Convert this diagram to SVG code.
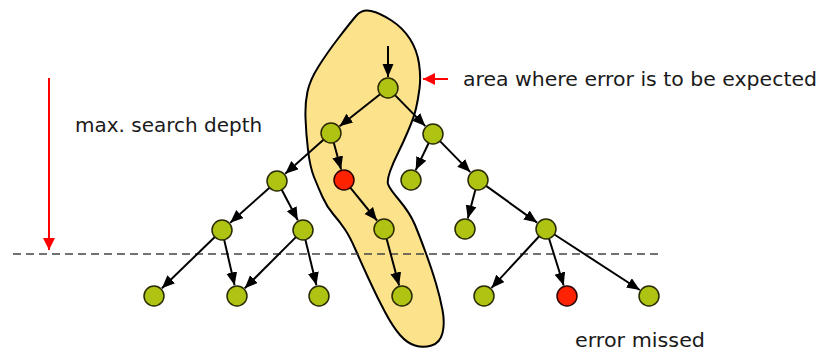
<svg xmlns="http://www.w3.org/2000/svg" width="820" height="351" viewBox="0 0 820 351">
<style>
.t{font-family:"DejaVu Sans",Verdana,sans-serif;font-size:20px;fill:#1a1a1a}
.e{stroke:#000;stroke-width:2;fill:none;marker-end:url(#ah)}
.n{fill:#afc312;stroke:#2a2a00;stroke-width:1.5}
.r{fill:#ff2200;stroke:#2a0000;stroke-width:1.5}
</style>
<defs>
<marker id="ah" markerUnits="userSpaceOnUse" markerWidth="14" markerHeight="12" refX="13" refY="5.5" orient="auto">
<path d="M0,0 L13,5.5 L0,11 Z" fill="#000"/>
</marker>
<marker id="rh" markerUnits="userSpaceOnUse" markerWidth="14" markerHeight="14" refX="12" refY="6" orient="auto">
<path d="M0,0 L12,6 L0,12 Z" fill="#ff0000"/>
</marker>
</defs>
<g id="area">
<path d="M356,16 Q362,9 371,11 Q380,13 391.5,20.5 Q403,28 410,39 Q417,50 419,63.5 Q421,77 419.5,88.5 Q418,100 416,108.5 Q414,117 408.5,130 Q403,143 398,153 Q393,163 390,171.5 Q387,180 388,184 Q389,188 399.5,200.5 Q410,213 415,225 Q420,237 426,253.5 Q432,270 436,283.5 Q440,297 442.5,310 Q445,323 442.5,333 Q440,343 431.5,345.5 Q423,348 415,345.5 Q407,343 400,335 Q393,327 385,312 Q377,297 368.5,278.5 Q360,260 355,248.5 Q350,237 345,229.5 Q340,222 333.5,214.5 Q327,207 322.5,197 Q318,187 314,177 Q310,167 308,150 Q306,133 305.5,118 Q305,103 307.5,91.5 Q310,80 318.5,66.5 Q327,53 338.5,38 Q350,23 356,16 Z" fill="#fde28c" stroke="#000" stroke-width="2" stroke-linejoin="round"/>
</g>
<g id="depth-line">
<line x1="13" y1="254" x2="663" y2="254" stroke="#444" stroke-width="1.3" stroke-dasharray="8,5"/>
</g>
<g id="annotations">
<line x1="49" y1="78" x2="49" y2="250" stroke="#ff0000" stroke-width="2" marker-end="url(#rh)"/>
<line x1="448" y1="79" x2="423" y2="79" stroke="#ff0000" stroke-width="2" marker-end="url(#rh)"/>
<text class="t" x="75" y="132">max. search depth</text>
<text class="t" x="463" y="86" textLength="354" lengthAdjust="spacingAndGlyphs">area where error is to be expected</text>
<text class="t" x="575" y="347" textLength="130" lengthAdjust="spacingAndGlyphs">error missed</text>
</g>
<g id="connectors">
<line class="e" x1="388" y1="46" x2="388" y2="77"/>
<line class="e" x1="380.1" y1="94.2" x2="339.6" y2="126.2"/>
<line class="e" x1="395.0" y1="95.1" x2="425.3" y2="126.1"/>
<line class="e" x1="323.5" y1="139.7" x2="285.2" y2="173.7"/>
<line class="e" x1="333.7" y1="142.6" x2="341.1" y2="169.4"/>
<line class="e" x1="428.7" y1="143.0" x2="415.7" y2="170.1"/>
<line class="e" x1="440.0" y1="141.1" x2="470.3" y2="172.1"/>
<line class="e" x1="269.5" y1="187.7" x2="230.2" y2="222.7"/>
<line class="e" x1="281.7" y1="189.8" x2="297.8" y2="220.3"/>
<line class="e" x1="350.3" y1="187.7" x2="377.0" y2="220.5"/>
<line class="e" x1="475.4" y1="189.7" x2="467.8" y2="218.4"/>
<line class="e" x1="486.1" y1="185.9" x2="537.1" y2="222.6"/>
<line class="e" x1="214.8" y1="237.0" x2="161.9" y2="288.3"/>
<line class="e" x1="224.2" y1="239.8" x2="234.6" y2="285.3"/>
<line class="e" x1="295.9" y1="237.1" x2="244.8" y2="288.2"/>
<line class="e" x1="305.4" y1="239.7" x2="316.4" y2="285.3"/>
<line class="e" x1="386.6" y1="238.7" x2="399.1" y2="285.4"/>
<line class="e" x1="539.2" y1="236.3" x2="491.5" y2="287.9"/>
<line class="e" x1="549.0" y1="238.5" x2="563.7" y2="285.5"/>
<line class="e" x1="554.4" y1="234.5" x2="639.8" y2="290.0"/>
</g>
<g id="n-root"><circle class="n" cx="388" cy="88" r="10"/></g>
<g id="n-a"><circle class="n" cx="331" cy="133" r="10"/></g>
<g id="n-b"><circle class="n" cx="433" cy="134" r="10"/></g>
<g id="n-aa"><circle class="n" cx="277" cy="181" r="10"/></g>
<g id="n-ab"><circle class="r" cx="344" cy="180" r="10"/></g>
<g id="n-ba"><circle class="n" cx="411" cy="180" r="10"/></g>
<g id="n-bb"><circle class="n" cx="478" cy="180" r="10"/></g>
<g id="n-aaa"><circle class="n" cx="222" cy="230" r="10"/></g>
<g id="n-aab"><circle class="n" cx="303" cy="230" r="10"/></g>
<g id="n-aba"><circle class="n" cx="384" cy="229" r="10"/></g>
<g id="n-bba"><circle class="n" cx="465" cy="229" r="10"/></g>
<g id="n-bbb"><circle class="n" cx="546" cy="229" r="10"/></g>
<g id="n-l1"><circle class="n" cx="154" cy="296" r="10"/></g>
<g id="n-l2"><circle class="n" cx="237" cy="296" r="10"/></g>
<g id="n-l3"><circle class="n" cx="319" cy="296" r="10"/></g>
<g id="n-l4"><circle class="n" cx="402" cy="296" r="10"/></g>
<g id="n-l5"><circle class="n" cx="484" cy="296" r="10"/></g>
<g id="n-l6"><circle class="r" cx="567" cy="296" r="10"/></g>
<g id="n-l7"><circle class="n" cx="649" cy="296" r="10"/></g>
</svg>
